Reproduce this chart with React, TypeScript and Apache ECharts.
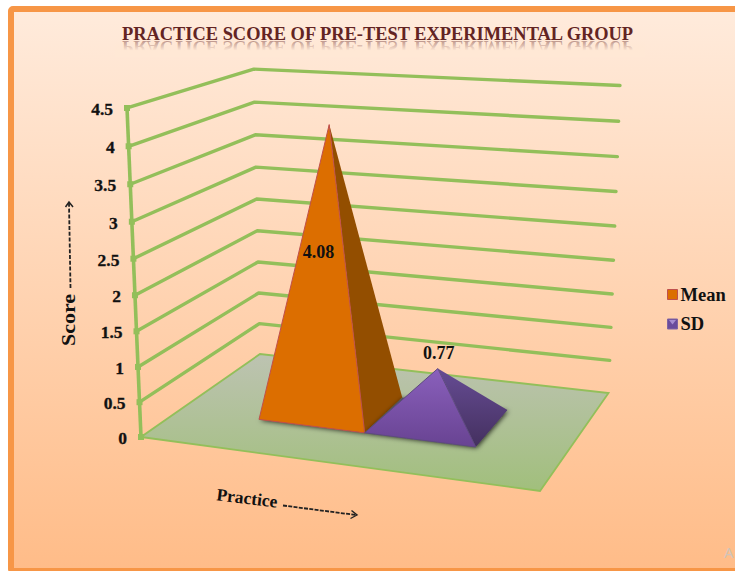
import React, { useEffect, useRef } from "react";
import * as echarts from "echarts";

const TITLE = "PRACTICE SCORE OF PRE-TEST EXPERIMENTAL GROUP";
const SERIES_NAMES = ["Mean", "SD"];
const MEAN_VALUES = [4.08];
const SD_VALUES = [0.77];
const TICK_VALUES = [0, 0.5, 1, 1.5, 2, 2.5, 3, 3.5, 4, 4.5];
const TICK_LABELS = ["0", "0.5", "1", "1.5", "2", "2.5", "3", "3.5", "4", "4.5"];
const Y_MAX = 4.5;

const SERIF = "'Liberation Serif', 'Times New Roman', serif";
const GREEN = "#93BF5A";

// Projective camera of the 3D plot: floor coords (u, v), height fraction t.
function project(u: number, v: number, t: number): [number, number] {
  const w = 1 - 0.08847 * u + 0.1623 * v - 0.0534 * t;
  const x = 351.23 * u + 161.2 * v + 141 - 20.78 * t;
  const y = 10.56 * u - 25.55 * v + 437 - 334.77 * t;
  return [x / w, y / w];
}

const BARS_U0 = 0.22;
const BARS_U1 = 0.787;
const BAR_V0 = 0.3;
const BAR_V1 = 0.693;

function heightOf(api: any, cs: any, value: number) {
  const py = api.coord([0, value])[1];
  return (cs.y + cs.height - py) / cs.height;
}

function wallsItem(params: any, api: any) {
  const cs = params.coordSys;
  const value = api.value(1) as number;
  const t = heightOf(api, cs, value);
  const a = project(0, 0, t);
  const b = project(0, 1, t);
  const c = project(1, 1, t);
  const children: any[] = [];
  if (value === 0) {
    children.push({
      type: "polygon",
      shape: { points: [project(0, 0, 0), project(1, 0, 0), project(1, 1, 0), project(0, 1, 0)] },
      style: {
        fill: new echarts.graphic.LinearGradient(0, 0, 0, 1, [
          { offset: 0, color: "#BDC3B2" },
          { offset: 1, color: "#A1BF7C" },
        ]),
        stroke: GREEN,
        lineWidth: 1.8,
        lineJoin: "miter",
      },
    });
    children.push({
      type: "polyline",
      shape: { points: [project(0, 0, 0), project(0, 0, 1)] },
      style: { stroke: GREEN, lineWidth: 3.6, fill: "none" },
    });
  } else {
    children.push({
      type: "polyline",
      shape: { points: [a, b, c] },
      style: { stroke: GREEN, lineWidth: 3.4, fill: "none", lineJoin: "round", lineCap: "round" },
    });
  }
  children.push({
    type: "rect",
    shape: { x: a[0] - 3, y: a[1] - 3, width: 6, height: 6 },
    style: { fill: GREEN },
  });
  children.push({
    type: "text",
    style: {
      text: TICK_LABELS[params.dataIndex],
      x: a[0] - 14,
      y: a[1] + 1,
      align: "right",
      verticalAlign: "middle",
      font: `bold 17.5px ${SERIF}`,
      fill: "#111",
      stroke: "#111",
      lineWidth: 0.3,
    },
  });
  return { type: "group", children };
}

function pyramidItem(opts: {
  front: any;
  side: any;
  stroke: string;
  labelOffset: [number, number];
  labelT: number;
}) {
  return (params: any, api: any) => {
    const cs = params.coordSys;
    const value = api.value(1) as number;
    const cx = api.coord([api.value(0), value])[0];
    const half = (api.size([1, 0])[0] / cs.width) / 2;
    const uc = BARS_U0 + ((cx - cs.x) / cs.width) * (BARS_U1 - BARS_U0);
    const hu = half * (BARS_U1 - BARS_U0);
    const t = heightOf(api, cs, value);
    const vc = (BAR_V0 + BAR_V1) / 2;
    const apex = project(uc, vc, t);
    const fl = project(uc - hu, BAR_V0, 0);
    const fr = project(uc + hu, BAR_V0, 0);
    const br = project(uc + hu, BAR_V1, 0);
    const bl = project(uc - hu, BAR_V1, 0);
    const anchor = project(uc, vc, t * opts.labelT);
    return {
      type: "group",
      children: [
        {
          type: "polygon",
          shape: { points: [fl, fr, br, bl] },
          style: {
            fill: "#555",
            shadowBlur: 5,
            shadowColor: "rgba(0,0,0,0.75)",
            shadowOffsetX: 1,
            shadowOffsetY: 1,
          },
        },
        {
          type: "polygon",
          shape: { points: [fr, br, apex] },
          style: { fill: opts.side },
        },
        {
          type: "polygon",
          shape: { points: [fl, fr, apex] },
          style: { fill: opts.front, stroke: opts.stroke, lineWidth: 1 },
        },
        {
          type: "text",
          style: {
            text: String(value),
            x: anchor[0] + opts.labelOffset[0],
            y: anchor[1] + opts.labelOffset[1],
            align: "center",
            verticalAlign: "middle",
            font: `bold 18px ${SERIF}`,
            fill: "#111",
          },
        },
      ],
    };
  };
}

const vGrad = (a: string, b: string) =>
  new echarts.graphic.LinearGradient(0, 0, 0, 1, [
    { offset: 0, color: a },
    { offset: 1, color: b },
  ]);

export default function App() {
  const ref = useRef<HTMLDivElement>(null);
  useEffect(() => {
    const chart = echarts.init(ref.current!, undefined, { renderer: "svg" });
    chart.setOption({
      animation: false,
      backgroundColor: "#ffffff",
      title: {
        text: TITLE,
        left: 122,
        top: 25,
        padding: 0,
        textStyle: {
          fontFamily: SERIF,
          fontWeight: "bold",
          fontSize: 18.4,
          color: "#632423",
        },
      },
      legend: {
        orient: "vertical",
        left: 667,
        top: 285,
        itemWidth: 10,
        itemHeight: 10,
        itemGap: 10.5,
        padding: 0,
        selectedMode: false,
        data: [
          { name: SERIES_NAMES[0], icon: "rect", itemStyle: { color: "#DC6E00", borderColor: "#C0504D", borderWidth: 1 } },
          { name: SERIES_NAMES[1], icon: "rect", itemStyle: { color: "#6A4C9C", borderColor: "#8064A2", borderWidth: 1 } },
        ],
        textStyle: {
          fontFamily: SERIF,
          fontWeight: "bold",
          fontSize: 18.5,
          color: "#111",
          padding: [0, 0, 0, -2],
        },
      },
      grid: { left: 100, right: 100, top: 100, bottom: 100 },
      xAxis: { type: "category", data: SERIES_NAMES, show: false },
      yAxis: { type: "value", min: 0, max: Y_MAX, interval: 0.5, show: false },
      graphic: [
        {
          type: "rect",
          z: -10,
          shape: { x: 11, y: 9, width: 800, height: 562, r: 2 },
          style: {
            fill: vGrad("#FFEBDC", "#FFBC88"),
            stroke: "#F79646",
            lineWidth: 6,
          },
        },
        {
          type: "text",
          z: -5,
          x: 122,
          y: 56,
          scaleY: -1,
          style: {
            text: TITLE,
            font: `bold 18.4px ${SERIF}`,
            fill: "rgba(99,36,35,0.42)",
            verticalAlign: "top",
          },
        },
        {
          type: "rect",
          z: -4,
          shape: { x: 115, y: 41, width: 530, height: 16 },
          style: {
            fill: new echarts.graphic.LinearGradient(0, 0, 0, 1, [
              { offset: 0, color: "rgba(255,232,213,0)" },
              { offset: 0.6, color: "rgba(255,232,213,1)" },
              { offset: 1, color: "rgba(255,232,213,1)" },
            ]),
          },
        },
        {
          type: "text",
          x: 69,
          y: 320,
          rotation: Math.PI / 2,
          scaleX: 1.22,
          style: {
            text: "Score",
            font: `bold 18px ${SERIF}`,
            fill: "#111",
            align: "center",
            verticalAlign: "middle",
          },
        },
        {
          type: "line",
          shape: { x1: 70.5, y1: 288, x2: 69, y2: 203 },
          style: { stroke: "#222", lineWidth: 1.8, lineDash: [4, 1.8] },
        },
        {
          type: "polyline",
          shape: { points: [[65.5, 207], [69, 202], [73, 207]] },
          style: { stroke: "#222", lineWidth: 1.5, fill: "none" },
        },
        {
          type: "text",
          x: 247,
          y: 498,
          rotation: -0.12,
          style: {
            text: "Practice",
            font: `bold 17.5px ${SERIF}`,
            fill: "#111",
            align: "center",
            verticalAlign: "middle",
          },
        },
        {
          type: "line",
          shape: { x1: 283, y1: 505.5, x2: 356, y2: 515 },
          style: { stroke: "#222", lineWidth: 1.8, lineDash: [4, 1.3] },
        },
        {
          type: "polyline",
          shape: { points: [[351.5, 510.5], [357, 515], [350.5, 518.5]] },
          style: { stroke: "#222", lineWidth: 1.4, fill: "none" },
        },
        {
          type: "polygon",
          z: 20,
          shape: { points: [[669, 320], [676, 320], [672.5, 324.5]] },
          style: { fill: "#A68DD0" },
        },
        {
          type: "text",
          x: 724,
          y: 552,
          style: {
            text: "A",
            font: "15px 'Noto Sans', sans-serif",
            fill: "#D0C4BA",
            verticalAlign: "middle",
          },
        },
      ],
      series: [
        {
          type: "custom",
          name: "axis",
          silent: true,
          clip: false,
          renderItem: wallsItem,
          data: TICK_VALUES.map((v) => [0, v]),
          z: 1,
        },
        {
          type: "custom",
          name: SERIES_NAMES[0],
          silent: true,
          clip: false,
          itemStyle: { color: "#DC6E00" },
          renderItem: pyramidItem({
            front: "#DC6E00",
            side: "#934E00",
            stroke: "#C0504D",
            labelOffset: [-12, -18],
            labelT: 0.5,
          }),
          data: MEAN_VALUES.map((v) => [0, v]),
          z: 2,
        },
        {
          type: "custom",
          name: SERIES_NAMES[1],
          silent: true,
          clip: false,
          itemStyle: { color: "#6A4C9C" },
          renderItem: pyramidItem({
            front: vGrad("#8A60BC", "#684392"),
            side: vGrad("#664C94", "#44305F"),
            stroke: "#5E4A80",
            labelOffset: [1, -16],
            labelT: 1,
          }),
          data: SD_VALUES.map((v) => [1, v]),
          z: 3,
        },
      ],
    });
    return () => chart.dispose();
  }, []);
  return (
    <div
      ref={ref}
      style={{ position: "absolute", left: 0, top: 0, width: 735, height: 571, overflow: "hidden" }}
    />
  );
}
